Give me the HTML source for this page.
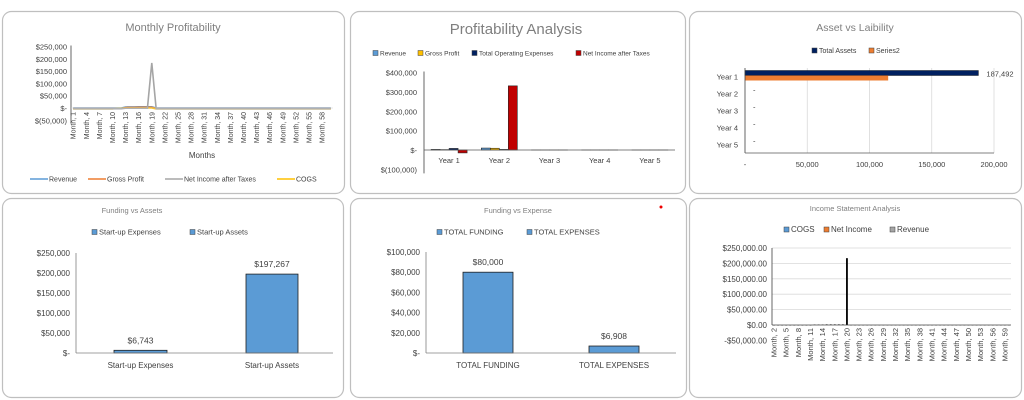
<!DOCTYPE html>
<html><head><meta charset="utf-8"><style>
body{margin:0;background:#fff;width:1024px;height:400px;overflow:hidden}
svg{display:block;font-family:"Liberation Sans",sans-serif}
</style></head><body>
<svg id="s" width="1024" height="400" viewBox="0 0 1024 400">
<rect x="0" y="0" width="1024" height="400" fill="#fff"/>
<g fill="none" stroke="#bfbfbf" stroke-width="1.2">
<rect x="2.5" y="11.5" width="342" height="182" rx="9"/>
<rect x="350.5" y="11.5" width="335" height="182" rx="9"/>
<rect x="689.5" y="11.5" width="332" height="182" rx="9"/>
<rect x="2.5" y="198.5" width="341" height="199" rx="9"/>
<rect x="350.5" y="198.5" width="336" height="199" rx="9"/>
<rect x="689.5" y="198.5" width="332" height="199" rx="9"/>
</g>
<circle cx="661" cy="207" r="1.5" fill="#e00"/>
</svg>
<script>
// ---- Chart 1 data: Monthly Profitability
const c1Months = Array.from({length:60},(_,i)=>'Month, '+(i+1));
const c1Revenue = [0,0,0,0,0,0,0,0,0,0,0,0,4000,4500,4500,5000,5000,5000,5000,0,0,0,0,0,0,0,0,0,0,0,0,0,0,0,0,0,0,0,0,0,0,0,0,0,0,0,0,0,0,0,0,0,0,0,0,0,0,0,0,0];
const c1Gross = [-2000,-2000,-2000,-2000,-2000,-2000,-2000,-2000,-2000,-2000,-2000,-2000,2000,2500,2500,3000,3000,3000,3000,-2000,-2000,-2000,-2000,-2000,-2000,-2000,-2000,-2000,-2000,-2000,-2000,-2000,-2000,-2000,-2000,-2000,-2000,-2000,-2000,-2000,-2000,-2000,-2000,-2000,-2000,-2000,-2000,-2000,-2000,-2000,-2000,-2000,-2000,-2000,-2000,-2000,-2000,-2000,-2000,-2000];
const c1Net = [-3000,-3000,-3000,-3000,-3000,-3000,-3000,-3000,-3000,-3000,-3000,-3000,-1000,-1000,-1000,-1000,-1000,-1000,183000,-3000,-3000,-3000,-3000,-3000,-3000,-3000,-3000,-3000,-3000,-3000,-3000,-3000,-3000,-3000,-3000,-3000,-3000,-3000,-3000,-3000,-3000,-3000,-3000,-3000,-3000,-3000,-3000,-3000,-3000,-3000,-3000,-3000,-3000,-3000,-3000,-3000,-3000,-3000,-3000,-3000];
const c1Cogs = [-3500,-3500,-3500,-3500,-3500,-3500,-3500,-3500,-3500,-3500,-2000,-1000,0,0,0,0,0,0,0,-3500,-3500,-3500,-3500,-3500,-3500,-3500,-3500,-3500,-3500,-3500,-3500,-3500,-3500,-3500,-3500,-3500,-3500,-3500,-3500,-3500,-3500,-3500,-3500,-3500,-3500,-3500,-3500,-3500,-3500,-3500,-3500,-3500,-3500,-3500,-3500,-3500,-3500,-3500,-3500,-3500];
const c1Ticks = [250000,200000,150000,100000,50000,0,-50000];
const c1TickLabels = ['$250,000','$200,000','$150,000','$100,000','$50,000','$-','$(50,000)'];
// ---- Chart 2 data: Profitability Analysis
const c2Years = ['Year 1','Year 2','Year 3','Year 4','Year 5'];
const c2Revenue = [3000,10000,0,0,0];
const c2Gross = [2000,9000,0,0,0];
const c2Opex = [8000,3000,0,0,0];
const c2Net = [-15000,331000,0,0,0];
const c2Ticks = [400000,300000,200000,100000,0,-100000];
const c2TickLabels = ['$400,000','$300,000','$200,000','$100,000','$-','$(100,000)'];
// ---- Chart 3 data: Asset vs Liability
const c3Years = ['Year 1','Year 2','Year 3','Year 4','Year 5'];
const c3Assets = [187492,0,0,0,0];
const c3Series2 = [115000,0,0,0,0];
const c3Ticks = [0,50000,100000,150000,200000];
const c3TickLabels = ['-','50,000','100,000','150,000','200,000'];
// ---- Chart 4 data: Funding vs Assets
const c4Cats = ['Start-up Expenses','Start-up Assets'];
const c4Vals = [6743,197267];
const c4ValLabels = ['$6,743','$197,267'];
const c4Ticks = [250000,200000,150000,100000,50000,0];
const c4TickLabels = ['$250,000','$200,000','$150,000','$100,000','$50,000','$-'];
// ---- Chart 5 data: Funding vs Expense
const c5Cats = ['TOTAL FUNDING','TOTAL EXPENSES'];
const c5Vals = [80000,6908];
const c5ValLabels = ['$80,000','$6,908'];
const c5Ticks = [100000,80000,60000,40000,20000,0];
const c5TickLabels = ['$100,000','$80,000','$60,000','$40,000','$20,000','$-'];
// ---- Chart 6 data: Income Statement Analysis
const c6Months = Array.from({length:59},(_,i)=>'Month, '+(i+2));
const c6Net = [-1500,-1500,-1500,-1500,-1500,-1500,-1500,-1500,-1500,-1500,1500,1500,1500,2000,2000,2000,2000,2000,217000,0,0,0,0,0,0,0,0,0,0,0,0,0,0,0,0,0,0,0,0,0,0,0,0,0,0,0,0,0,0,0,0,0,0,0,0,0,0,0,0];
const c6Ticks = [250000,200000,150000,100000,50000,0,-50000];
const c6TickLabels = ['$250,000.00','$200,000.00','$150,000.00','$100,000.00','$50,000.00','$0.00','-$50,000.00'];

const svg=document.getElementById('s');
const NS='http://www.w3.org/2000/svg';
function el(tag,attrs,parent,text){const e=document.createElementNS(NS,tag);for(const k in attrs)e.setAttribute(k,attrs[k]);if(text!==undefined)e.textContent=text;(parent||svg).appendChild(e);return e;}
function lin(d0,d1,r0,r1){return v=>r0+(v-d0)*(r1-r0)/(d1-d0);}
function grp(name){const g=el('g',{},svg);return g;}
function txt(g,x,y,s,name,opts){const t=el('text',Object.assign({x:x,y:y,'font-size':8,fill:'#404040'},opts||{}),g,s);return t;}
function legendSq(g,x,y,color,label,name,fs){const r=el('rect',{x:x,y:y-5,width:5,height:5,fill:color,stroke:'#404040','stroke-width':0.5},g);txt(g,x+7,y,label,name,{'font-size':fs||7});}

// ===== Chart 1 =====
(function(){
const g=grp('monthly-profitability-chart');
txt(g,173,31,'Monthly Profitability','chart-title',{'font-size':11,fill:'#7f7f7f','text-anchor':'middle'});
const x0=71,x1=333,y=lin(0,250000,108,46.5);
const bw=(x1-x0)/c1Months.length, cx=i=>x0+(i+0.5)*bw;
c1Ticks.forEach((t,i)=>txt(g,67,y(t)+3,c1TickLabels[i],'y-tick-label',{'font-size':7.5,'text-anchor':'end'}));
const ax=el('line',{x1:x0,y1:y(250000)-1,x2:x0,y2:y(-50000)+2,stroke:'#404040','stroke-width':0.8},g);
const series=[[c1Revenue,'#5b9bd5','line-revenue'],[c1Gross,'#ed7d31','line-gross-profit'],[c1Cogs,'#ffc000','line-cogs'],[c1Net,'#a5a5a5','line-net-income']];
series.forEach(s=>{const p=el('polyline',{points:s[0].map((v,i)=>cx(i)+','+y(v)).join(' '),fill:'none',stroke:s[1],'stroke-width':1.6},g);});
const xa=el('line',{x1:x0,y1:y(0),x2:x1,y2:y(0),stroke:'#d0d0d0','stroke-width':0.6},g);
c1Months.forEach((m,i)=>{if(i%3)return;txt(g,0,0,m,'x-tick-label',{'font-size':7,'text-anchor':'end',transform:`translate(${cx(i)+2.5},${112}) rotate(-90)`});});
txt(g,202,158,'Months','x-axis-title',{'font-size':8,'text-anchor':'middle'});
const leg=[[30,'#5b9bd5','Revenue'],[88,'#ed7d31','Gross Profit'],[165,'#a5a5a5','Net Income after Taxes'],[277,'#ffc000','COGS']];
leg.forEach(l=>{const ln=el('line',{x1:l[0],y1:179,x2:l[0]+18,y2:179,stroke:l[1],'stroke-width':1.6},g);txt(g,l[0]+19,181.5,l[2],'legend-entry',{'font-size':7});});
})();

// ===== Chart 2 =====
(function(){
const g=grp('profitability-analysis-chart');
txt(g,516,34,'Profitability Analysis','chart-title',{'font-size':15,fill:'#7f7f7f','text-anchor':'middle'});
const x0=424,x1=675,y=lin(0,400000,150,72.5);
legendSq(g,373,55.5,'#5b9bd5','Revenue','legend-revenue',6.5);
legendSq(g,418,55.5,'#ffc000','Gross Profit','legend-gross-profit',6.5);
legendSq(g,472,55.5,'#002060','Total Operating Expenses','legend-total-opex',6.5);
legendSq(g,576,55.5,'#c00000','Net Income after Taxes','legend-net-income',6.5);
c2Ticks.forEach((t,i)=>txt(g,417,y(t)+3,c2TickLabels[i],'y-tick-label',{'font-size':7.5,'text-anchor':'end'}));
const cw=(x1-x0)/c2Years.length, bw=9;
const ser=[[c2Revenue,'#5b9bd5'],[c2Gross,'#ffc000'],[c2Opex,'#002060'],[c2Net,'#c00000']];
c2Years.forEach((yr,i)=>{const c=x0+(i+0.5)*cw;ser.forEach((s,k)=>{const v=s[0][i];const bx=c-2*bw+k*bw;const top=Math.min(y(v),y(0));const r=el('rect',{x:bx,y:top,width:bw,height:Math.max(Math.abs(y(v)-y(0)),0.01),fill:s[1],stroke:'#262626','stroke-width':0.6},g);});
txt(g,c,163,yr,'x-tick-label',{'font-size':7.5,'text-anchor':'middle'});});
const ax=el('line',{x1:x0,y1:y(400000)-1,x2:x0,y2:y(-100000)+4,stroke:'#404040','stroke-width':0.8},g);
const xa=el('line',{x1:x0,y1:y(0),x2:x1,y2:y(0),stroke:'#595959','stroke-width':0.8},g);
})();

// ===== Chart 3 =====
(function(){
const g=grp('asset-vs-liability-chart');
txt(g,855,31,'Asset vs Laibility','chart-title',{'font-size':10.5,fill:'#7f7f7f','text-anchor':'middle'});
legendSq(g,812,53,'#002060','Total Assets','legend-total-assets',7);
legendSq(g,869,53,'#ed7d31','Series2','legend-series2',7);
const x=lin(0,200000,745,994), y0=68, y1=153, rh=(y1-y0)/c3Years.length;
c3Ticks.forEach((t,i)=>{if(i>0){const gl=el('line',{x1:x(t),y1:y0,x2:x(t),y2:y1,stroke:'#d9d9d9','stroke-width':0.8},g);}
txt(g,x(t),167,c3TickLabels[i],'x-tick-label',{'font-size':7.5,'text-anchor':'middle'});});
c3Years.forEach((yr,i)=>{const c=y0+(i+0.5)*rh;txt(g,738,c+3,yr,'y-tick-label',{'font-size':7.5,'text-anchor':'end'});
const r1=el('rect',{x:x(0),y:c-6,width:x(c3Assets[i])-x(0),height:5,fill:'#002060',stroke:'#000','stroke-width':0.4},g);
const r2=el('rect',{x:x(0),y:c-1,width:x(c3Series2[i])-x(0),height:5,fill:'#ed7d31'},g);
const lbl=c3Assets[i]?c3Assets[i].toLocaleString('en-US'):'-';txt(g,x(c3Assets[i])+8,c+(c3Assets[i]?0:-1),lbl,'data-label',{'font-size':7.5});});
const ax=el('line',{x1:x(0),y1:y0,x2:x(0),y2:y1,stroke:'#404040','stroke-width':0.8},g);
const xa=el('line',{x1:x(0),y1:y1,x2:x(200000),y2:y1,stroke:'#595959','stroke-width':0.8},g);
})();

// ===== Chart 4 & 5 (column charts) =====
function colChart(name,title,tx,cats,vals,vlabels,ticks,tlabels,x0,x1,max,top,bars,legX){
const g=grp(name);
txt(g,tx,213,title,'chart-title',{'font-size':7.5,fill:'#7f7f7f','text-anchor':'middle'});
legendSq(g,legX[0],234.5,'#5b9bd5',cats[0],'legend-'+cats[0].toLowerCase().replace(/ /g,'-'),7.5);
legendSq(g,legX[1],234.5,'#5b9bd5',cats[1],'legend-'+cats[1].toLowerCase().replace(/ /g,'-'),7.5);
const y=lin(0,max,353,top);
ticks.forEach((t,i)=>txt(g,x0-6,y(t)+3,tlabels[i],'y-tick-label',{'font-size':8,'text-anchor':'end'}));
cats.forEach((c,i)=>{const r=el('rect',{x:bars[i][0],y:y(vals[i]),width:bars[i][1],height:y(0)-y(vals[i]),fill:'#5b9bd5',stroke:'#1f1f1f','stroke-width':0.8},g);
const cx=bars[i][0]+bars[i][1]/2;txt(g,cx,y(vals[i])-7,vlabels[i],'data-label',{'font-size':8.5,'text-anchor':'middle'});txt(g,cx,368,c,'x-tick-label',{'font-size':8,'text-anchor':'middle'});});
const ax=el('line',{x1:x0,y1:top,x2:x0,y2:353,stroke:'#808080','stroke-width':0.8},g);
const xa=el('line',{x1:x0,y1:353,x2:x1,y2:353,stroke:'#808080','stroke-width':0.8},g);
}
colChart('funding-vs-assets-chart','Funding vs Assets',132,c4Cats,c4Vals,c4ValLabels,c4Ticks,c4TickLabels,76,333,250000,253,[[114,53],[246,52]],[92,190]);
colChart('funding-vs-expense-chart','Funding vs Expense',518,c5Cats,c5Vals,c5ValLabels,c5Ticks,c5TickLabels,426,676,100000,252,[[463,50],[589,50]],[437,527]);

// ===== Chart 6 =====
(function(){
const g=grp('income-statement-chart');
txt(g,855,211,'Income Statement Analysis','chart-title',{'font-size':7.5,fill:'#7f7f7f','text-anchor':'middle'});
legendSq(g,784,232,'#5b9bd5','COGS','legend-cogs',8);
legendSq(g,824,232,'#ed7d31','Net Income','legend-net-income',8);
legendSq(g,890,232,'#a5a5a5','Revenue','legend-revenue',8);
const x0=772,x1=1011,y=lin(0,250000,325,248);
c6Ticks.forEach((t,i)=>{if(t>0){const gl=el('line',{x1:x0,y1:y(t),x2:x1,y2:y(t),stroke:'#d9d9d9','stroke-width':0.8},g);}
txt(g,767,y(t)+3,c6TickLabels[i],'y-tick-label',{'font-size':8,'text-anchor':'end'});});
const bw=(x1-x0)/c6Months.length, cx=i=>x0+(i+0.5)*bw;
c6Net.forEach((v,i)=>{const top=Math.min(y(v),y(0));const r=el('rect',{x:cx(i)-0.9,y:top,width:1.8,height:Math.max(Math.abs(y(v)-y(0)),0.3),fill:'#000'},g);});
const ax=el('line',{x1:x0,y1:y(250000),x2:x0,y2:y(0),stroke:'#404040','stroke-width':0.8},g);
const xa=el('line',{x1:x0,y1:y(0),x2:x1,y2:y(0),stroke:'#404040','stroke-width':0.8},g);
c6Months.forEach((m,i)=>{if(i%3)return;txt(g,0,0,m,'x-tick-label',{'font-size':7.5,'text-anchor':'end',transform:`translate(${cx(i)+2.5},${328}) rotate(-90)`});});
})();
</script>
</body></html>
